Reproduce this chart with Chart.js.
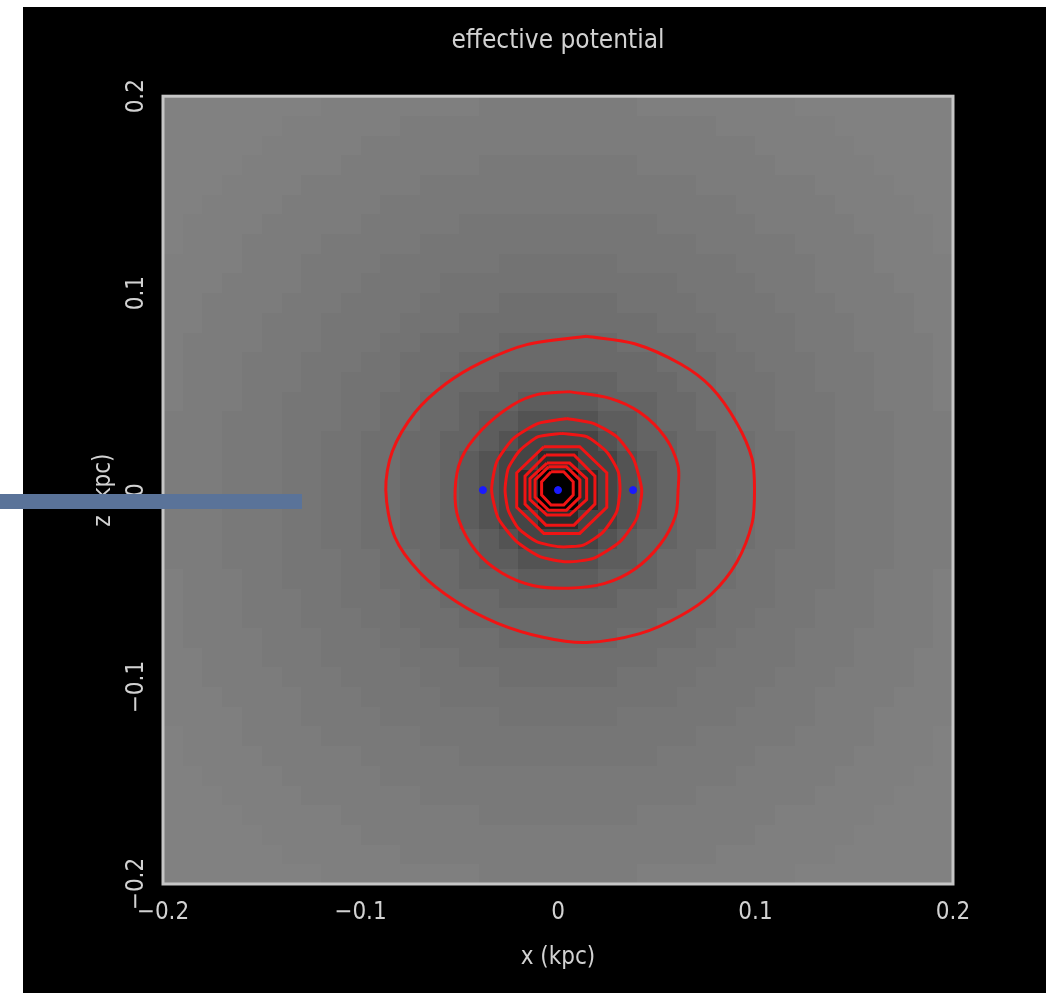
<!DOCTYPE html>
<html>
<head>
<meta charset="utf-8">
<script src="https://cdn.jsdelivr.net/npm/chart.js@4.4.1/dist/chart.umd.min.js"></script>
<style>
  html, body { margin: 0; padding: 0; background: #fff; }
  #frame { position: absolute; left: 23px; top: 7px; width: 1023px; height: 986px; background: #000; }
  #bar { position: absolute; left: 0; top: 494px; width: 302px; height: 15px; background: #5a7399; }
</style>
</head>
<body>
<div id="frame"><canvas id="chart" width="1023" height="986"></canvas></div>
<div id="bar"></div>
<script>
// axis ranges (kpc)
const x_min = -0.2, x_max = 0.2;
const z_min = -0.2, z_max = 0.2;
const tick_step = 0.1;
const cell_size = 0.01;

// grey shades of the potential map, darkest in the middle
const shade_levels = {
  '0': '#000000', '1': '#2c2c2c', '2': '#454545', '3': '#535353',
  '4': '#5d5d5d', '5': '#646464', '6': '#6a6a6a', '7': '#6f6f6f',
  '8': '#737373', '9': '#767676', 'a': '#797979', 'b': '#7c7c7c',
  'c': '#7f7f7f', 'd': '#818181'
};

// upper-left quarter of the map: rows from z=0.2 down to 0, columns from x=-0.2 to 0
const quarter_rows = [
  "ddddddddccccccccbbbb",
  "ddddddccccccbbbbbbbb",
  "dddddcccccbbbbbbbbbb",
  "ddddcccccbbbbbbbaaaa",
  "dddccccbbbbbbaaaaaaa",
  "ddccccbbbbbaaaaaaaaa",
  "dccccbbbbbaaaaa99999",
  "dcccbbbbaaaaa9999999",
  "ccccbbbaaaa999999888",
  "cccbbbbaaa9999888888",
  "ccbbbbaaa99998888777",
  "ccbbbaaa999988877777",
  "cbbbbaaa999887777666",
  "cbbbaaa9998877766666",
  "cbbbaaa9988877666555",
  "cbbbaa99988776655544",
  "bbbaaa99988776654433",
  "bbbaaa99887766554322",
  "bbbaaa99887766543221",
  "bbbaaa99887766543210"
];

// contour levels, [x, z] in kpc, outermost first
const contour_1 = [[0.0143,0.0781],[0.0388,0.0743],[0.0621,0.0640],[0.0776,0.0522],[0.0905,0.0341],[0.0983,0.0159],[0.0995,0],[0.0983,-0.0167],[0.0905,-0.0366],[0.0776,-0.0529],[0.0621,-0.0638],[0.0414,-0.0729],[0.0143,-0.0774],[-0.0076,-0.0747],[-0.0309,-0.0675],[-0.0516,-0.0566],[-0.0697,-0.0421],[-0.0826,-0.0239],[-0.0872,0],[-0.0839,0.0196],[-0.0723,0.0395],[-0.0568,0.0540],[-0.0387,0.0649],[-0.0154,0.0740]];
const contour_2 = [[0.0053,0.0500],[0.0259,0.0467],[0.0414,0.0395],[0.0543,0.0268],[0.0608,0.0123],[0.0608,0],[0.0595,-0.0130],[0.0518,-0.0275],[0.0388,-0.0402],[0.0233,-0.0475],[0.0053,-0.0498],[-0.0128,-0.0484],[-0.0284,-0.0421],[-0.0413,-0.0312],[-0.0503,-0.0149],[-0.0521,0],[-0.0490,0.0159],[-0.0387,0.0305],[-0.0232,0.0431],[-0.0102,0.0486]];
const contour_3 = [[0.0044,0.0364],[0.0179,0.0339],[0.0297,0.0271],[0.0381,0.0161],[0.0424,0],[0.0398,-0.0144],[0.0314,-0.0262],[0.0179,-0.0347],[0.0044,-0.0364],[-0.0091,-0.0338],[-0.0209,-0.0262],[-0.0302,-0.0144],[-0.0336,0],[-0.0310,0.0144],[-0.0226,0.0262],[-0.0100,0.0339]];
const contour_4 = [[0.0019,0.0288],[0.0145,0.0271],[0.0247,0.0194],[0.0305,0.0093],[0.0314,0],[0.0297,-0.0110],[0.0229,-0.0212],[0.0128,-0.0279],[0.0010,-0.0288],[-0.0108,-0.0262],[-0.0201,-0.0194],[-0.0252,-0.0102],[-0.0268,0],[-0.0252,0.0110],[-0.0192,0.0203],[-0.0100,0.0271]];
const contour_5 = [[-0.0072,0.0220],[0.0110,0.0220],[0.0247,0.0088],[0.0247,-0.0088],[0.0110,-0.0220],[-0.0072,-0.0220],[-0.0209,-0.0088],[-0.0209,0.0088]];
const contour_6 = [[-0.0061,0.0178],[0.0081,0.0178],[0.0187,0.0071],[0.0187,-0.0071],[0.0081,-0.0178],[-0.0061,-0.0178],[-0.0167,-0.0071],[-0.0167,0.0071]];
const contour_7 = [[-0.0056,0.0137],[0.0059,0.0137],[0.0145,0.0058],[0.0145,-0.0048],[0.0059,-0.0127],[-0.0056,-0.0127],[-0.0142,-0.0048],[-0.0142,0.0058]];
const contour_8 = [[-0.0048,0.0118],[0.0043,0.0118],[0.0111,0.0052],[0.0111,-0.0036],[0.0043,-0.0102],[-0.0048,-0.0102],[-0.0116,-0.0036],[-0.0116,0.0052]];
const contour_9 = [[-0.0035,0.0093],[0.0029,0.0093],[0.0077,0.0042],[0.0077,-0.0025],[0.0029,-0.0076],[-0.0035,-0.0076],[-0.0083,-0.0025],[-0.0083,0.0042]];

// centre and the two points either side of it
const marker_points = [[-0.038,0],[0.038,0],[0,0]];

const text_color = '#d2d2d2';
const font_family = '"DejaVu Sans Condensed", "Liberation Sans Narrow", "DejaVu Sans", sans-serif';
const red = '#f01414';

const to_xy = pts => pts.map(p => ({x: p[0], y: p[1]}));
const closed = pts => to_xy(pts.concat([pts[0]]));

const fmt = v => {
  const n = Math.round(v * 10) / 10;
  if (n === 0) return '0';
  return String(n).replace('-', '\u2212');
};

const contour_set = (pts, tension) => ({
  data: closed(pts),
  showLine: true,
  borderColor: red,
  borderWidth: 3,
  pointRadius: 0,
  tension: tension,
  fill: false
});

// grey potential map, drawn cell by cell on the axes
const potential_map = {
  id: 'potential_map',
  beforeDatasetsDraw(chart) {
    const {ctx, chartArea: a, scales: {x, y}} = chart;
    ctx.save();
    ctx.beginPath();
    ctx.rect(a.left, a.top, a.right - a.left, a.bottom - a.top);
    ctx.clip();
    for (let r = 0; r < 40; r++) {
      const row = quarter_rows[r < 20 ? r : 39 - r];
      const z0 = z_max - r * cell_size, z1 = z0 - cell_size;
      const py0 = Math.round(y.getPixelForValue(z0));
      const py1 = Math.round(y.getPixelForValue(z1));
      for (let c = 0; c < 40; c++) {
        const ch = row[c < 20 ? c : 39 - c];
        const x0 = x_min + c * cell_size, x1 = x0 + cell_size;
        const px0 = Math.round(x.getPixelForValue(x0));
        const px1 = Math.round(x.getPixelForValue(x1));
        ctx.fillStyle = shade_levels[ch];
        ctx.fillRect(px0, py0, px1 - px0, py1 - py0);
      }
    }
    ctx.restore();

    // light frame round the map
    ctx.save();
    ctx.strokeStyle = '#c6c6c6';
    ctx.lineWidth = 3;
    ctx.strokeRect(a.left, a.top, a.right - a.left, a.bottom - a.top);
    ctx.restore();
  }
};

new Chart(document.getElementById('chart'), {
  type: 'scatter',
  data: {
    datasets: [
      {
        data: to_xy(marker_points),
        backgroundColor: '#1a1aff',
        borderColor: '#1a1aff',
        pointRadius: 3.5,
        showLine: false
      },
      contour_set(contour_9, 0),
      contour_set(contour_8, 0),
      contour_set(contour_7, 0),
      contour_set(contour_6, 0),
      contour_set(contour_5, 0),
      contour_set(contour_4, 0.2),
      contour_set(contour_3, 0.2),
      contour_set(contour_2, 0.3),
      contour_set(contour_1, 0.3)
    ]
  },
  options: {
    responsive: false,
    animation: false,
    layout: { padding: { left: 0, right: 93, top: 0, bottom: 0 } },
    plugins: {
      legend: { display: false },
      tooltip: { enabled: false },
      title: {
        display: true,
        fullSize: false,
        text: 'effective potential',
        color: text_color,
        font: { family: font_family, size: 26, weight: 'normal' },
        padding: { top: 19, bottom: 39 }
      }
    },
    scales: {
      x: {
        type: 'linear',
        min: x_min,
        max: x_max,
        grid: { display: false, drawTicks: false },
        border: { display: false },
        ticks: {
          stepSize: tick_step,
          color: text_color,
          font: { family: font_family, size: 24 },
          padding: 14,
          maxRotation: 0,
          callback: v => fmt(v)
        },
        title: {
          display: true,
          text: 'x (kpc)',
          color: text_color,
          font: { family: font_family, size: 24 },
          padding: { top: 0, bottom: 21 }
        },
        afterFit(scale) { scale.height = 109; }
      },
      y: {
        type: 'linear',
        min: z_min,
        max: z_max,
        grid: { display: false, drawTicks: false },
        border: { display: false },
        ticks: {
          stepSize: tick_step,
          color: text_color,
          font: { family: font_family, size: 24 },
          minRotation: 90,
          maxRotation: 90,
          crossAlign: 'center',
          padding: 0,
          callback: v => fmt(v)
        },
        title: {
          display: true,
          text: 'z (kpc)',
          color: text_color,
          font: { family: font_family, size: 24 },
          padding: { top: 66, bottom: 0 }
        },
        afterFit(scale) { scale.width = 140; }
      }
    }
  },
  plugins: [potential_map]
});
</script>
</body>
</html>
